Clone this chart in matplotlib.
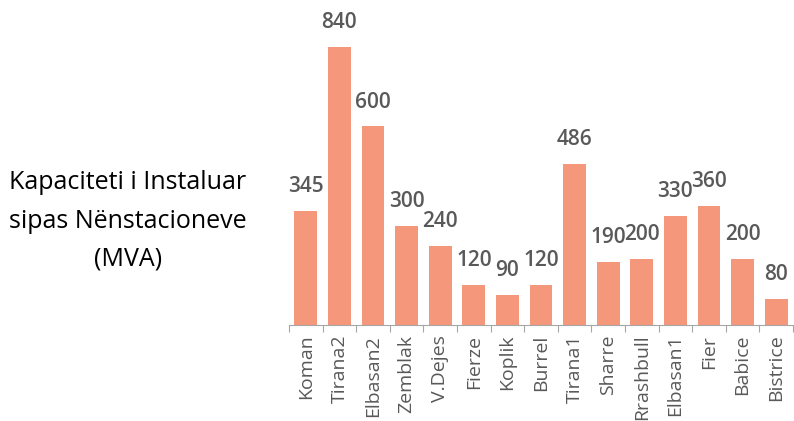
import matplotlib
matplotlib.use("Agg")
import matplotlib.pyplot as plt

categories = ["Koman", "Tirana2", "Elbasan2", "Zemblak", "V.Dejes", "Fierze", "Koplik",
              "Burrel", "Tirana1", "Sharre", "Rrashbull", "Elbasan1", "Fier", "Babice", "Bistrice"]
values = [345, 840, 600, 300, 240, 120, 90, 120, 486, 190, 200, 330, 360, 200, 80]
title_text = "Kapaciteti i Instaluar\nsipas Nënstacioneve\n(MVA)"

plt.rcParams['font.family'] = ['Open Sans', 'DejaVu Sans']

fig = plt.figure(figsize=(7.94, 4.21), dpi=100)
ax = fig.add_axes([289/794, 1 - 325/421, (793 - 289)/794, 325/421])

x = list(range(len(categories)))
bars = ax.bar(x, values, width=0.68, color="#F5977A", zorder=2)
for xi, v in zip(x, values):
    ax.annotate(str(v), (xi, v), xytext=(0, 10), textcoords="offset points",
                ha="center", va="bottom", fontsize=15, fontweight="semibold", color="#595959")

ax.set_xlim(-0.5, len(categories) - 0.5)
ax.set_ylim(0, 325 / (278 / 840))
for s in ["top", "right", "left"]:
    ax.spines[s].set_visible(False)
ax.spines["bottom"].set_color("#A6A6A6")
ax.set_yticks([])
ax.set_xticks([i - 0.5 for i in range(len(categories) + 1)])
ax.set_xticklabels([])
ax.set_xticks(x, minor=True)
ax.set_xticklabels(categories, minor=True, rotation=90, fontsize=14, color="#595959")
ax.tick_params(axis="x", which="major", length=5, color="#A6A6A6", direction="out")
ax.tick_params(axis="x", which="minor", length=0, pad=7)

fig.text(128/794, 1 - 221/421, title_text, ha="center", va="center", fontsize=18,
         color="#000000", linespacing=1.7)

fig.savefig("out.png", dpi=100)
